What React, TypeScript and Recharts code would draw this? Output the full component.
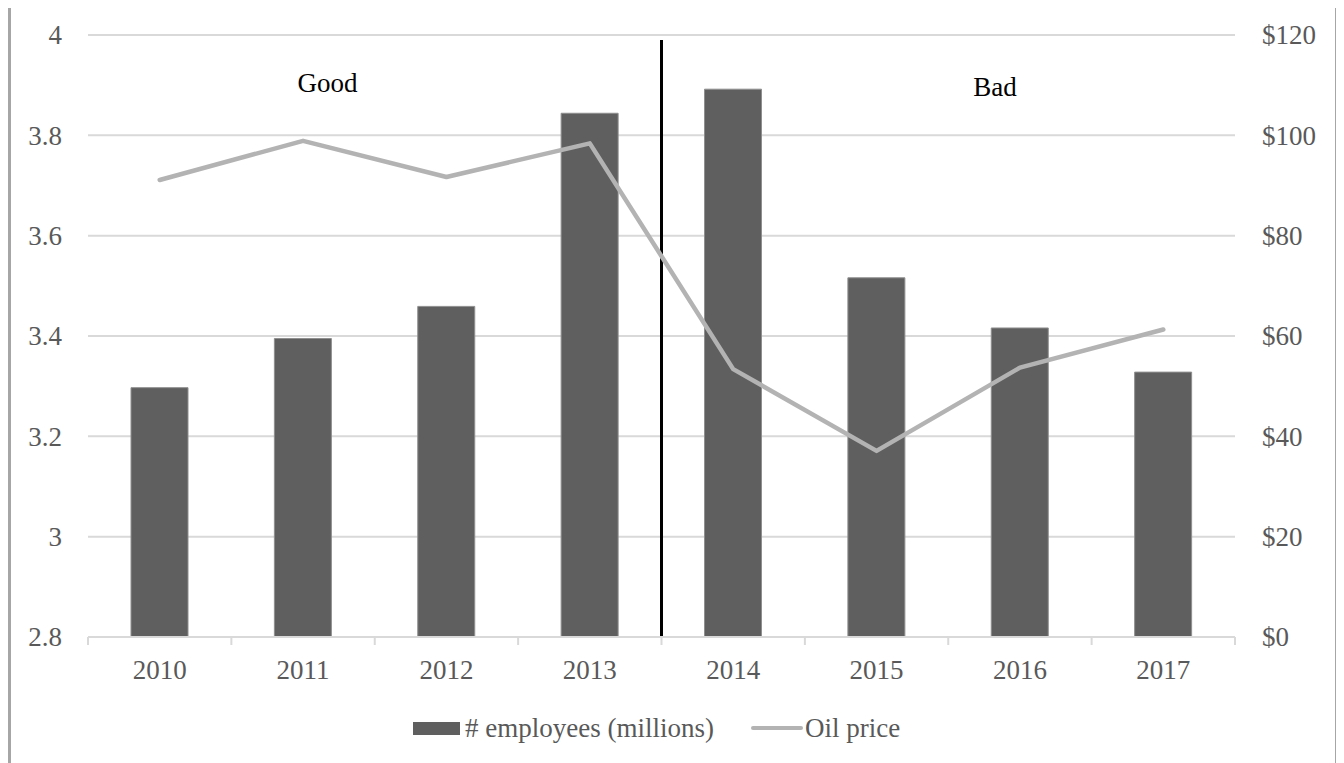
import {
  ComposedChart, Bar, Line, XAxis, YAxis, CartesianGrid, ReferenceArea,
} from "recharts";

const years = ["2010", "2011", "2012", "2013", "2014", "2015", "2016", "2017"];
const employees = [3.297, 3.395, 3.459, 3.844, 3.892, 3.516, 3.416, 3.328];
const oilPrice = [91.1, 98.9, 91.7, 98.4, 53.4, 37.1, 53.7, 61.3];
const leftTicks = [2.8, 3, 3.2, 3.4, 3.6, 3.8, 4];
const rightTicks = [0, 20, 40, 60, 80, 100, 120];

const data = years.map((year, i) => ({
  year,
  employees: employees[i],
  oil: oilPrice[i],
}));

const FONT = '"Liberation Serif", "Times New Roman", serif';
const TEXT = "#595959";
const GRID = "#d9d9d9";
const BAR = "#5f5f5f";
const LINE = "#b3b3b3";

function YearTick(props: any) {
  const { x, y, payload, index, visibleTicksCount } = props;
  const off = payload?.offset ?? 71.7;
  const last = index === visibleTicksCount - 1;
  return (
    <g>
      <line x1={x - off} y1={y} x2={x - off} y2={y + 8} stroke={GRID} strokeWidth={2} />
      {last && <line x1={x + off} y1={y} x2={x + off} y2={y + 8} stroke={GRID} strokeWidth={2} />}
      <text x={x} y={y + 42} textAnchor="middle" fill={TEXT} fontSize={27} fontFamily={FONT}>
        {payload.value}
      </text>
    </g>
  );
}

function LeftTick(props: any) {
  const { x, y, payload } = props;
  return (
    <text x={x} y={y} dy="0.35em" textAnchor="end" fill={TEXT} fontSize={27} fontFamily={FONT}>
      {String(Math.round(payload.value * 10) / 10)}
    </text>
  );
}

function RightTick(props: any) {
  const { x, y, payload } = props;
  return (
    <text x={x} y={y} dy="0.35em" textAnchor="start" fill={TEXT} fontSize={27} fontFamily={FONT}>
      {`$${payload.value}`}
    </text>
  );
}

function Divider(props: any) {
  const { x, y, width, height } = props;
  const cx = x + width / 2;
  return <line x1={cx} y1={y} x2={cx} y2={y + height} stroke="#000" strokeWidth={3} />;
}

export default function App() {
  return (
    <div
      style={{
        position: "relative",
        marginTop: -3,
        width: 1324,
        height: 780,
        border: "3px solid #a6a6a6",
        background: "#fff",
        fontFamily: FONT,
      }}
    >
      <ComposedChart width={1324} height={700} data={data} margin={{ top: 27, right: 0, left: 0, bottom: 0 }}>
        <CartesianGrid yAxisId="left" vertical={false} stroke={GRID} strokeWidth={2} />
        <XAxis
          dataKey="year"
          height={71}
          tickLine={false}
          tickSize={0}
          tickMargin={0}
          axisLine={{ stroke: GRID, strokeWidth: 2 }}
          tick={<YearTick />}
          interval={0}
        />
        <YAxis
          yAxisId="left"
          width={77}
          domain={[2.8, 4]}
          ticks={leftTicks}
          axisLine={false}
          tickLine={false}
          tickSize={0}
          tickMargin={26}
          tick={<LeftTick />}
        />
        <YAxis
          yAxisId="right"
          orientation="right"
          width={100}
          domain={[0, 120]}
          ticks={rightTicks}
          axisLine={false}
          tickLine={false}
          tickSize={0}
          tickMargin={27}
          tick={<RightTick />}
        />
        <Bar
          yAxisId="left"
          dataKey="employees"
          name="# employees (millions)"
          fill={BAR}
          stroke="#8f8f8f"
          strokeWidth={1}
          barSize={57}
          isAnimationActive={false}
        />
        <Line
          yAxisId="right"
          dataKey="oil"
          name="Oil price"
          type="linear"
          stroke={LINE}
          strokeWidth={4.5}
          strokeLinecap="round"
          strokeLinejoin="round"
          dot={false}
          activeDot={false}
          isAnimationActive={false}
        />
        <ReferenceArea
          yAxisId="left"
          x1="2013"
          x2="2014"
          y1={2.8}
          y2={3.99}
          shape={<Divider />}
        />
      </ComposedChart>

      <div style={{ position: "absolute", left: 316.5, top: 60, transform: "translateX(-50%)", fontSize: 27, color: "#000", lineHeight: "30px" }}>
        Good
      </div>
      <div style={{ position: "absolute", left: 984, top: 64, transform: "translateX(-50%)", fontSize: 27, color: "#000", lineHeight: "30px" }}>
        Bad
      </div>

      <div
        style={{
          position: "absolute",
          left: 402,
          top: 705,
          height: 30,
          display: "flex",
          alignItems: "center",
          fontSize: 27,
          color: TEXT,
          whiteSpace: "nowrap",
        }}
      >
        <span style={{ display: "inline-block", width: 47, height: 13, background: BAR, marginRight: 5 }} />
        <span># employees (millions)</span>
        <span style={{ display: "inline-block", width: 52, height: 4, background: LINE, borderRadius: 2, marginLeft: 37, marginRight: 2 }} />
        <span>Oil price</span>
      </div>
    </div>
  );
}
